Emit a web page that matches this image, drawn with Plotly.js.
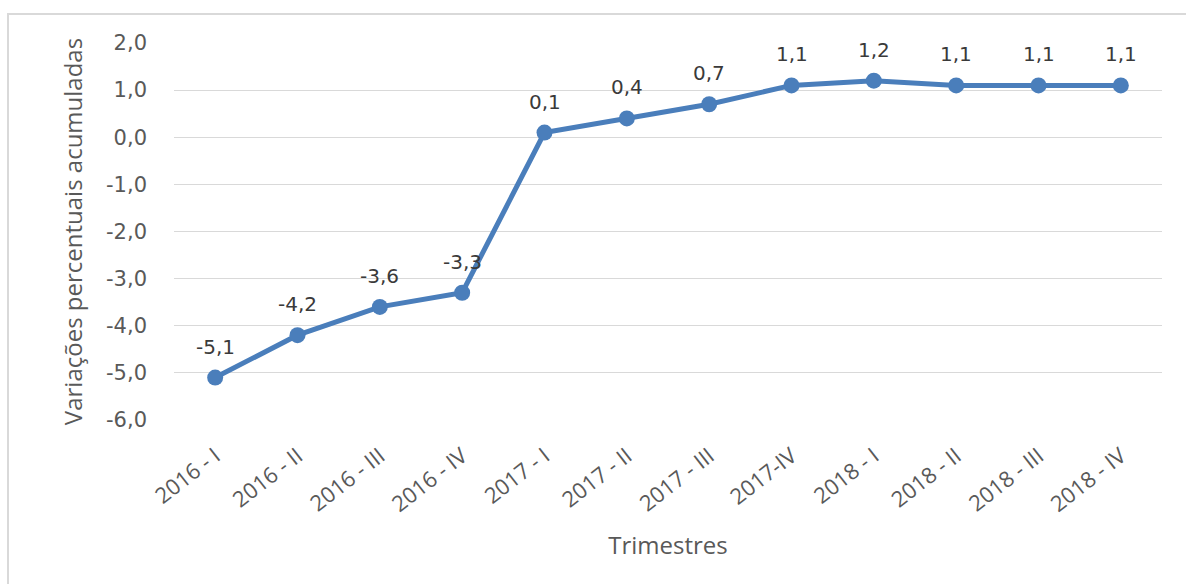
<!DOCTYPE html>
<html>
<head>
<meta charset="utf-8">
<script src="https://cdn.plot.ly/plotly-3.0.1.min.js"></script>
<style>html,body{margin:0;padding:0;background:#fff;}#chart{width:1186px;height:584px;}</style>
</head>
<body>
<div id="chart"></div>
<script>
const categories = ["2016 - I", "2016 - II", "2016 - III", "2016 - IV", "2017 - I", "2017 - II", "2017 - III", "2017-IV", "2018 - I", "2018 - II", "2018 - III", "2018 - IV"];
const values = [-5.1, -4.2, -3.6, -3.3, 0.1, 0.4, 0.7, 1.1, 1.2, 1.1, 1.1, 1.1];
const yTicks = [-6, -5, -4, -3, -2, -1, 0, 1, 2];

const fmt = v => v.toFixed(1).replace('.', ',');

const trace = {
  x: categories,
  y: values,
  type: 'scatter',
  mode: 'lines+markers',
  line: {color: '#4a7ebb', width: 5},
  marker: {color: '#4a7ebb', size: 16},
  hoverinfo: 'skip'
};

const annotations = categories.map((c, i) => ({
  x: c, y: values[i], xref: 'x', yref: 'y',
  text: fmt(values[i]), showarrow: false, yshift: 31,
  font: {family: '"DejaVu Sans", sans-serif', size: 20, color: '#3a3a3a'}
}));

const layout = {
  width: 1186, height: 584,
  margin: {l: 174, r: 24, t: 43, b: 164},
  paper_bgcolor: '#fff', plot_bgcolor: '#fff',
  showlegend: false,
  font: {family: '"Open Sans", sans-serif', color: '#595959'},
  xaxis: {
    type: 'category',
    range: [-0.5, 11.5],
    tickangle: -38,
    showgrid: false, zeroline: false, showline: false,
    ticks: '',
    ticklabelstandoff: 18,
    tickfont: {family: '"Open Sans", sans-serif', size: 22, color: '#595959'},
    title: {text: 'Trimestres', font: {family: '"Open Sans", sans-serif', size: 24, color: '#595959'}, standoff: 20},
    fixedrange: true
  },
  yaxis: {
    range: [-6, 2],
    tickvals: yTicks,
    ticktext: yTicks.map(fmt),
    showgrid: true, gridcolor: '#d9d9d9', gridwidth: 1,
    zeroline: false, showline: false, ticks: '',
    ticklabelstandoff: 26,
    tickfont: {family: '"DejaVu Sans", sans-serif', size: 21, color: '#595959'},
    title: {text: 'Variações percentuais acumuladas', font: {family: '"Open Sans", sans-serif', size: 24, color: '#595959'}, standoff: 16},
    fixedrange: true
  },
  shapes: [{
    type: 'rect', xref: 'paper', yref: 'paper',
    x0: -0.168, x1: 1.2, y0: -0.8, y1: 1.077,
    line: {color: '#d9d9d9', width: 2}, fillcolor: 'rgba(0,0,0,0)', layer: 'below'
  }],
  annotations: annotations
};

Plotly.newPlot('chart', [trace], layout, {displayModeBar: false, staticPlot: true});
</script>
</body>
</html>
